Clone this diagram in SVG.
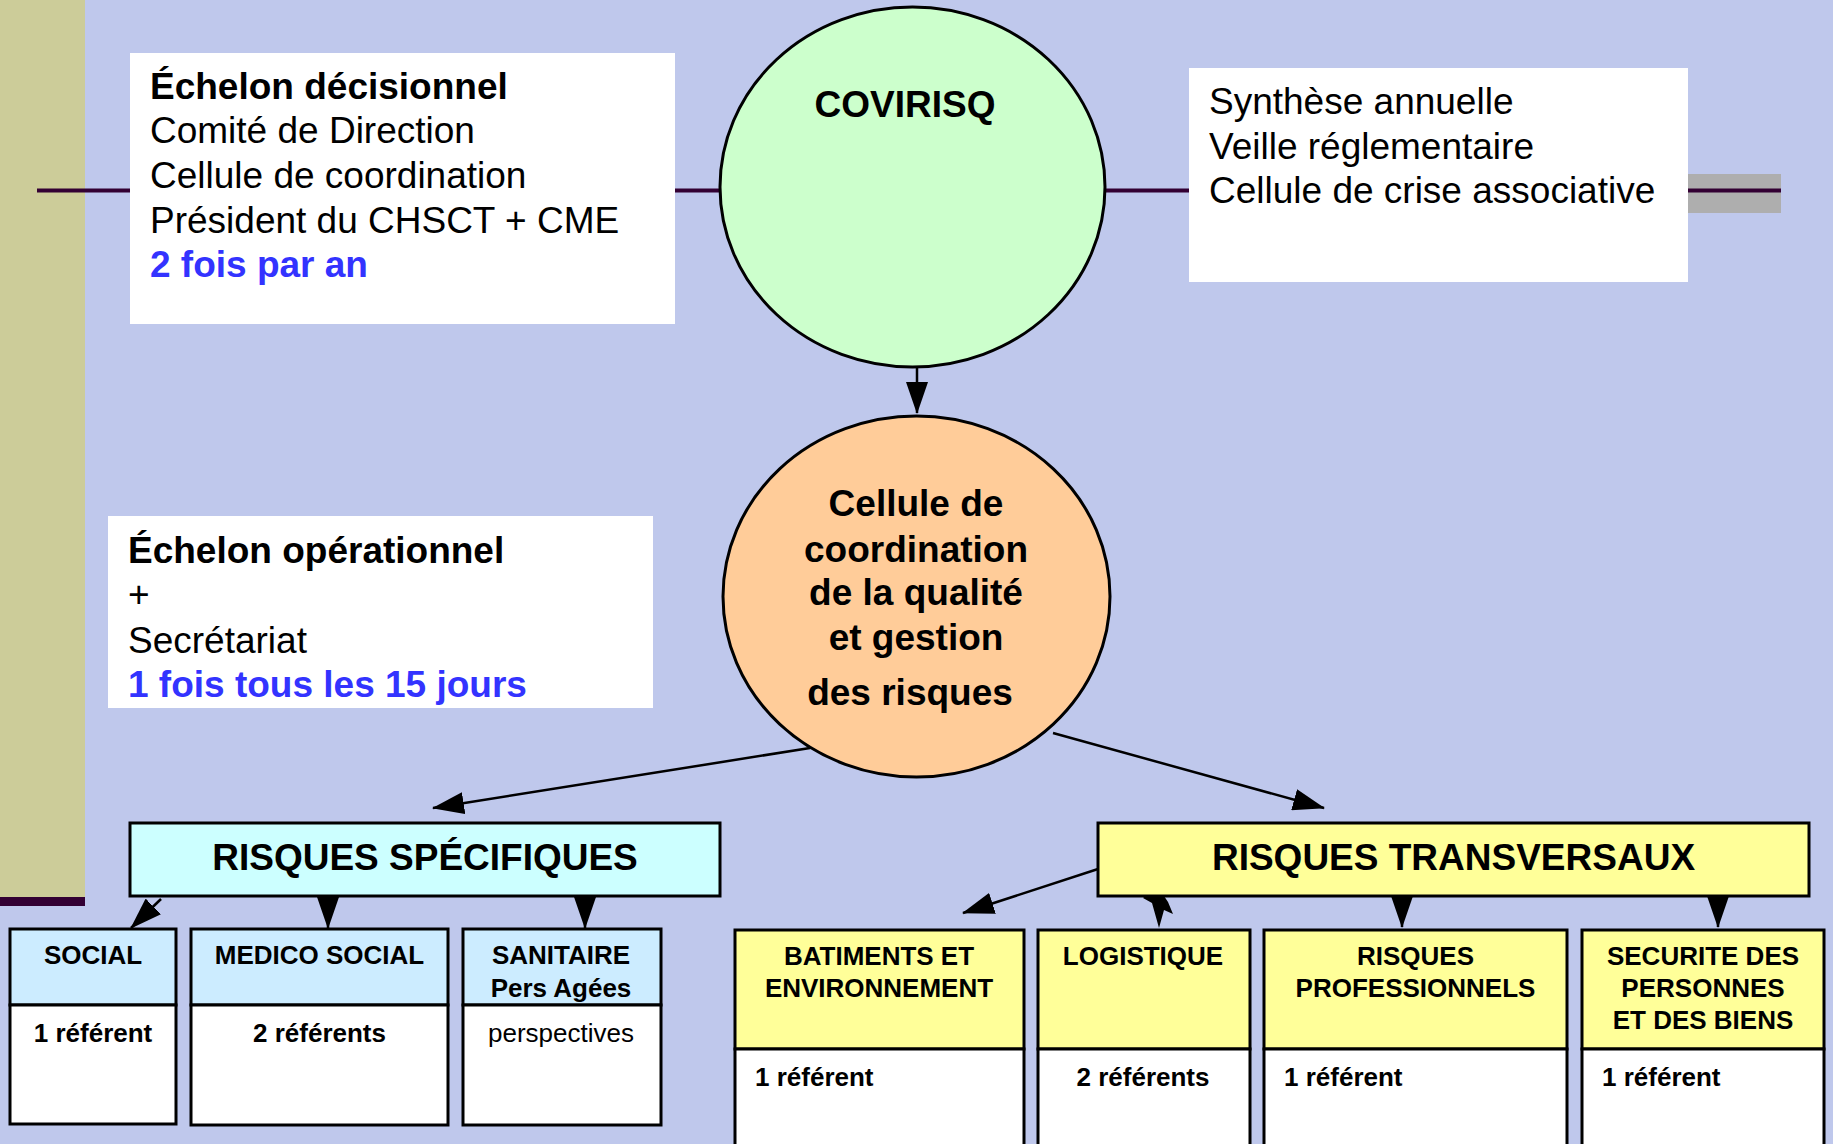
<svg xmlns="http://www.w3.org/2000/svg" width="1833" height="1144" viewBox="0 0 1833 1144">
<defs>
<style>
text{font-family:"Liberation Sans",Arial,sans-serif;fill:#000}
.t37{font-size:37px}
.b{font-weight:bold}
.blue{fill:#3333FF}
.mid{text-anchor:middle}
.s26{font-size:26px}
.box{stroke:#000;stroke-width:3}
.conn{stroke:#000;stroke-width:2.5;fill:none}
.hline{stroke:#330033;stroke-width:4;fill:none}
</style>
<marker id="ah" markerUnits="userSpaceOnUse" viewBox="0 0 32 22" markerWidth="32" markerHeight="22" refX="31" refY="11" orient="auto">
<path d="M0,0 L32,11 L0,22 z" fill="#000"/>
</marker>
</defs>
<rect x="0" y="0" width="1833" height="1144" fill="#BFC8EC"/>
<rect x="0" y="0" width="85" height="897" fill="#CCCC99"/>
<rect x="0" y="897" width="85" height="9" fill="#330033"/>
<rect x="1688" y="174" width="93" height="39" fill="#AEAEAE"/>

<g id="connectors">
<line class="hline" x1="37" y1="190.5" x2="1781" y2="190.5"/>
<line class="conn" x1="917" y1="367" x2="917" y2="413" marker-end="url(#ah)"/>
<line class="conn" x1="810" y1="748" x2="433" y2="808" marker-end="url(#ah)"/>
<line class="conn" x1="1053" y1="733" x2="1324" y2="808" marker-end="url(#ah)"/>
<line class="conn" x1="161" y1="899" x2="131" y2="928" marker-end="url(#ah)"/>
<line class="conn" x1="328" y1="897" x2="328" y2="928" marker-end="url(#ah)"/>
<line class="conn" x1="585" y1="897" x2="585" y2="928" marker-end="url(#ah)"/>
<line class="conn" x1="1098" y1="869" x2="963" y2="913" marker-end="url(#ah)"/>
<polygon points="1158,883 1164,896 1168,902 1173,914 1164,910 1159,928 1152,903 1143,898" fill="#000"/>
<line class="conn" x1="1402" y1="897" x2="1402" y2="927" marker-end="url(#ah)"/>
<line class="conn" x1="1718" y1="897" x2="1718" y2="927" marker-end="url(#ah)"/>
</g>

<g id="echelon-decisionnel">
<rect x="130" y="53" width="545" height="271" fill="#FFFFFF"/>
<text class="t37 b" x="150" y="99">Échelon décisionnel</text>
<text class="t37" x="150" y="143">Comité de Direction</text>
<text class="t37" x="150" y="188">Cellule de coordination</text>
<text class="t37" x="150" y="233">Président du CHSCT + CME</text>
<text class="t37 b blue" x="150" y="277">2 fois par an</text>
</g>

<g id="covirisq">
<ellipse cx="912.5" cy="187" rx="192.5" ry="180" fill="#CCFFCC" stroke="#000" stroke-width="3"/>
<text class="t37 b mid" x="905" y="117">COVIRISQ</text>
</g>

<g id="synthese">
<rect x="1189" y="68" width="499" height="214" fill="#FFFFFF"/>
<text class="t37" x="1209" y="114">Synthèse annuelle</text>
<text class="t37" x="1209" y="159">Veille réglementaire</text>
<text class="t37" x="1209" y="203">Cellule de crise associative</text>
</g>

<g id="echelon-operationnel">
<rect x="108" y="516" width="545" height="192" fill="#FFFFFF"/>
<text class="t37 b" x="128" y="563">Échelon opérationnel</text>
<text class="t37" x="128" y="607">+</text>
<text class="t37" x="128" y="653">Secrétariat</text>
<text class="t37 b blue" x="128" y="697">1 fois tous les 15 jours</text>
</g>

<g id="cellule-coordination">
<ellipse cx="916.5" cy="596.5" rx="193.5" ry="180.5" fill="#FFCC99" stroke="#000" stroke-width="3"/>
<text class="t37 b mid" x="916" y="516">Cellule de</text>
<text class="t37 b mid" x="916" y="562">coordination</text>
<text class="t37 b mid" x="916" y="605">de la qualité</text>
<text class="t37 b mid" x="916" y="650">et gestion</text>
<text class="t37 b mid" x="910" y="705">des risques</text>
</g>

<g id="risques-specifiques">
<rect class="box" x="130" y="823" width="590" height="73" fill="#CCFFFF"/>
<text class="t37 b mid" x="425" y="870">RISQUES SPÉCIFIQUES</text>
</g>

<g id="risques-transversaux">
<rect class="box" x="1098" y="823" width="711" height="73" fill="#FFFF99"/>
<text class="t37 b mid" x="1453.5" y="870">RISQUES TRANSVERSAUX</text>
</g>

<g id="social">
<rect class="box" x="10" y="929" width="166" height="76" fill="#CCECFF"/>
<rect class="box" x="10" y="1005" width="166" height="119" fill="#FFFFFF"/>
<text class="s26 b mid" x="93" y="964">SOCIAL</text>
<text class="s26 b mid" x="93" y="1042">1 référent</text>
</g>

<g id="medico-social">
<rect class="box" x="191" y="929" width="257" height="76" fill="#CCECFF"/>
<rect class="box" x="191" y="1005" width="257" height="120" fill="#FFFFFF"/>
<text class="s26 b mid" x="319.5" y="964">MEDICO SOCIAL</text>
<text class="s26 b mid" x="319.5" y="1042">2 référents</text>
</g>

<g id="sanitaire">
<rect class="box" x="463" y="929" width="198" height="76" fill="#CCECFF"/>
<rect class="box" x="463" y="1005" width="198" height="120" fill="#FFFFFF"/>
<text class="s26 b mid" x="561" y="964">SANITAIRE</text>
<text class="s26 b mid" x="561" y="997">Pers Agées</text>
<text class="s26 mid" x="561" y="1042">perspectives</text>
</g>

<g id="batiments">
<rect class="box" x="735" y="930" width="289" height="119" fill="#FFFF99"/>
<rect class="box" x="735" y="1049" width="289" height="110" fill="#FFFFFF"/>
<text class="s26 b mid" x="879" y="965">BATIMENTS ET</text>
<text class="s26 b mid" x="879" y="997">ENVIRONNEMENT</text>
<text class="s26 b" x="755" y="1086">1 référent</text>
</g>

<g id="logistique">
<rect class="box" x="1038" y="930" width="212" height="119" fill="#FFFF99"/>
<rect class="box" x="1038" y="1049" width="212" height="110" fill="#FFFFFF"/>
<text class="s26 b mid" x="1143" y="965">LOGISTIQUE</text>
<text class="s26 b mid" x="1143" y="1086">2 référents</text>
</g>

<g id="risques-professionnels">
<rect class="box" x="1264" y="930" width="303" height="119" fill="#FFFF99"/>
<rect class="box" x="1264" y="1049" width="303" height="110" fill="#FFFFFF"/>
<text class="s26 b mid" x="1415.5" y="965">RISQUES</text>
<text class="s26 b mid" x="1415.5" y="997">PROFESSIONNELS</text>
<text class="s26 b" x="1284" y="1086">1 référent</text>
</g>

<g id="securite">
<rect class="box" x="1582" y="930" width="242" height="119" fill="#FFFF99"/>
<rect class="box" x="1582" y="1049" width="242" height="110" fill="#FFFFFF"/>
<text class="s26 b mid" x="1703" y="965">SECURITE DES</text>
<text class="s26 b mid" x="1703" y="997">PERSONNES</text>
<text class="s26 b mid" x="1703" y="1029">ET DES BIENS</text>
<text class="s26 b" x="1602" y="1086">1 référent</text>
</g>
</svg>
